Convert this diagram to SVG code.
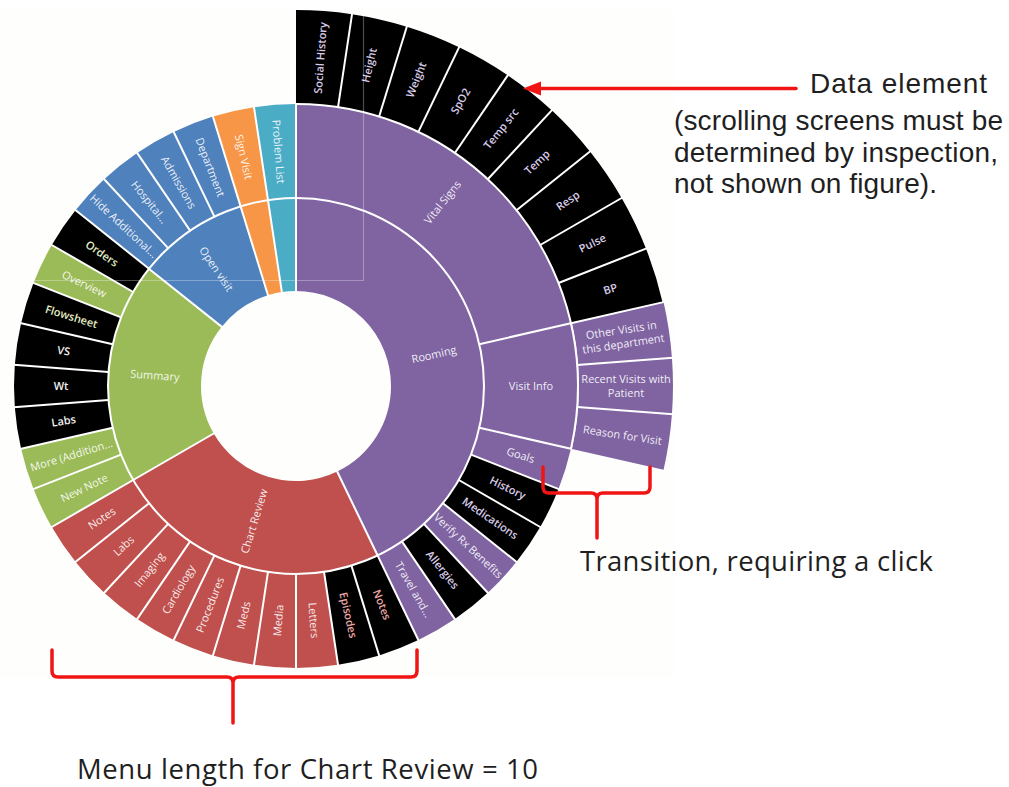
<svg xmlns="http://www.w3.org/2000/svg" xmlns:xlink="http://www.w3.org/1999/xlink" width="1009" height="787" viewBox="0 0 1009 787">
  <style>
    .arc{fill:none}
    .r1{stroke-width:93}
    .r2{stroke-width:94}
    .r3{stroke-width:94}
    .pu{stroke:#8064A2}
    .rd{stroke:#C0504D}
    .gr{stroke:#9BBB59}
    .bl{stroke:#4F81BD}
    .or{stroke:#F79646}
    .tl{stroke:#4BACC6}
    .bk{stroke:#000000}
    .lb{font-family:"Open Sans","DejaVu Sans",sans-serif;font-size:11px;text-anchor:middle;fill:#ffffff;fill-opacity:.9}
    .lk{font-weight:600;fill-opacity:1}
    .tv{fill:#d8cce9}
    .tr{fill:#eaa6a4}
    .tg{fill:#e2ecc0}
    .tw{fill:#f2f2f2}
    .sep{stroke:#ffffff;stroke-width:2;fill:none}
    .note{font-family:"Liberation Sans",Arial,sans-serif;font-size:28px;fill:#1f1f1f}
    .cap{font-family:"Open Sans","DejaVu Sans",sans-serif;font-size:27.5px;fill:#1f1f1f}
  </style>
  <defs>
    <line id="s1" x1="0" y1="-94" x2="0" y2="-189"/>
    <line id="s2" x1="0" y1="-188" x2="0" y2="-283"/>
    <line id="s3" x1="0" y1="-282" x2="0" y2="-378"/>
  </defs>

  <rect width="1009" height="787" fill="#ffffff"/>
  <rect x="0" y="10" width="675" height="667" fill="#fefffc"/>

  <g id="sunburst" transform="translate(296,386)">
    <!-- inner ring -->
    <g id="rooming">
      <circle class="arc r1 pu" r="141.5" pathLength="42" stroke-dasharray="18 24" transform="rotate(-90)"/>
      <text class="lb" transform="rotate(-12.857) translate(141.5,0)" dy="0.35em">Rooming</text>
    </g>
    <g id="chart-review">
      <circle class="arc r1 rd" r="141.5" pathLength="42" stroke-dasharray="10 32" transform="rotate(64.286)"/>
      <text class="lb" transform="rotate(-72.857) translate(-141.5,0)" dy="0.35em">Chart Review</text>
    </g>
    <g id="summary">
      <circle class="arc r1 gr" r="141.5" pathLength="42" stroke-dasharray="8 34" transform="rotate(150)"/>
      <text class="lb" transform="rotate(4.286) translate(-141.5,0)" dy="0.35em">Summary</text>
    </g>
    <g id="open-visit">
      <circle class="arc r1 bl" r="141.5" pathLength="42" stroke-dasharray="4 38" transform="rotate(218.571)"/>
      <text class="lb" transform="rotate(55.714) translate(-141.5,0)" dy="0.35em">Open visit</text>
    </g>
    <g id="sign-visit-inner">
      <circle class="arc r1 or" r="141.5" pathLength="42" stroke-dasharray="1 41" transform="rotate(252.857)"/>
    </g>
    <g id="problem-list-inner">
      <circle class="arc r1 tl" r="141.5" pathLength="42" stroke-dasharray="1 41" transform="rotate(261.429)"/>
    </g>

    <!-- middle ring: Rooming -->
    <g id="vital-signs">
      <circle class="arc r2 pu" r="235" pathLength="42" stroke-dasharray="9 33" transform="rotate(-90)"/>
      <text class="lb" transform="rotate(-51.429) translate(235,0)" dy="0.35em">Vital Signs</text>
    </g>
    <g id="visit-info">
      <circle class="arc r2 pu" r="235" pathLength="42" stroke-dasharray="3 39" transform="rotate(-12.857)"/>
      <text class="lb" transform="translate(235,0)" dy="0.35em">Visit Info</text>
    </g>
    <g id="goals">
      <circle class="arc r2 pu" r="235" pathLength="42" stroke-dasharray="1 41" transform="rotate(12.857)"/>
      <text class="lb" transform="rotate(17.143) translate(235,0)" dy="0.35em">Goals</text>
    </g>
    <g id="history">
      <circle class="arc r2 bk" r="235" pathLength="42" stroke-dasharray="1 41" transform="rotate(21.429)"/>
      <text class="lb lk tv" transform="rotate(25.714) translate(235,0)" dy="0.35em">History</text>
    </g>
    <g id="medications">
      <circle class="arc r2 bk" r="235" pathLength="42" stroke-dasharray="1 41" transform="rotate(30)"/>
      <text class="lb lk tv" transform="rotate(34.286) translate(235,0)" dy="0.35em">Medications</text>
    </g>
    <g id="verify-rx">
      <circle class="arc r2 pu" r="235" pathLength="42" stroke-dasharray="1 41" transform="rotate(38.571)"/>
      <text class="lb" transform="rotate(42.857) translate(235,0)" dy="0.35em">Verify Rx Benefits</text>
    </g>
    <g id="allergies">
      <circle class="arc r2 bk" r="235" pathLength="42" stroke-dasharray="1 41" transform="rotate(47.143)"/>
      <text class="lb lk tv" transform="rotate(51.429) translate(235,0)" dy="0.35em">Allergies</text>
    </g>
    <g id="travel">
      <circle class="arc r2 pu" r="235" pathLength="42" stroke-dasharray="1 41" transform="rotate(55.714)"/>
      <text class="lb" transform="rotate(60) translate(235,0)" dy="0.35em">Travel and...</text>
    </g>

    <!-- middle ring: Chart Review -->
    <g id="cr-notes-data">
      <circle class="arc r2 bk" r="235" pathLength="42" stroke-dasharray="1 41" transform="rotate(64.286)"/>
      <text class="lb lk tr" transform="rotate(68.571) translate(235,0)" dy="0.35em">Notes</text>
    </g>
    <g id="cr-episodes">
      <circle class="arc r2 bk" r="235" pathLength="42" stroke-dasharray="1 41" transform="rotate(72.857)"/>
      <text class="lb lk tr" transform="rotate(77.143) translate(235,0)" dy="0.35em">Episodes</text>
    </g>
    <g id="cr-letters">
      <circle class="arc r2 rd" r="235" pathLength="42" stroke-dasharray="1 41" transform="rotate(81.429)"/>
      <text class="lb" transform="rotate(85.714) translate(235,0)" dy="0.35em">Letters</text>
    </g>
    <g id="cr-media">
      <circle class="arc r2 rd" r="235" pathLength="42" stroke-dasharray="1 41" transform="rotate(90)"/>
      <text class="lb" transform="rotate(-85.714) translate(-235,0)" dy="0.35em">Media</text>
    </g>
    <g id="cr-meds">
      <circle class="arc r2 rd" r="235" pathLength="42" stroke-dasharray="1 41" transform="rotate(98.571)"/>
      <text class="lb" transform="rotate(-77.143) translate(-235,0)" dy="0.35em">Meds</text>
    </g>
    <g id="cr-procedures">
      <circle class="arc r2 rd" r="235" pathLength="42" stroke-dasharray="1 41" transform="rotate(107.143)"/>
      <text class="lb" transform="rotate(-68.571) translate(-235,0)" dy="0.35em">Procedures</text>
    </g>
    <g id="cr-cardiology">
      <circle class="arc r2 rd" r="235" pathLength="42" stroke-dasharray="1 41" transform="rotate(115.714)"/>
      <text class="lb" transform="rotate(-60) translate(-235,0)" dy="0.35em">Cardiology</text>
    </g>
    <g id="cr-imaging">
      <circle class="arc r2 rd" r="235" pathLength="42" stroke-dasharray="1 41" transform="rotate(124.286)"/>
      <text class="lb" transform="rotate(-51.429) translate(-235,0)" dy="0.35em">Imaging</text>
    </g>
    <g id="cr-labs">
      <circle class="arc r2 rd" r="235" pathLength="42" stroke-dasharray="1 41" transform="rotate(132.857)"/>
      <text class="lb" transform="rotate(-42.857) translate(-235,0)" dy="0.35em">Labs</text>
    </g>
    <g id="cr-notes">
      <circle class="arc r2 rd" r="235" pathLength="42" stroke-dasharray="1 41" transform="rotate(141.429)"/>
      <text class="lb" transform="rotate(-34.286) translate(-235,0)" dy="0.35em">Notes</text>
    </g>

    <!-- middle ring: Summary -->
    <g id="sm-new-note">
      <circle class="arc r2 gr" r="235" pathLength="42" stroke-dasharray="1 41" transform="rotate(150)"/>
      <text class="lb" transform="rotate(-25.714) translate(-235,0)" dy="0.35em">New Note</text>
    </g>
    <g id="sm-more">
      <circle class="arc r2 gr" r="235" pathLength="42" stroke-dasharray="1 41" transform="rotate(158.571)"/>
      <text class="lb" transform="rotate(-17.143) translate(-235,0)" dy="0.35em">More (Addition...</text>
    </g>
    <g id="sm-labs">
      <circle class="arc r2 bk" r="235" pathLength="42" stroke-dasharray="1 41" transform="rotate(167.143)"/>
      <text class="lb lk tw" transform="rotate(-8.571) translate(-235,0)" dy="0.35em">Labs</text>
    </g>
    <g id="sm-wt">
      <circle class="arc r2 bk" r="235" pathLength="42" stroke-dasharray="1 41" transform="rotate(175.714)"/>
      <text class="lb lk tw" transform="translate(-235,0)" dy="0.35em">Wt</text>
    </g>
    <g id="sm-vs">
      <circle class="arc r2 bk" r="235" pathLength="42" stroke-dasharray="1 41" transform="rotate(184.286)"/>
      <text class="lb lk tw" transform="rotate(8.571) translate(-235,0)" dy="0.35em">VS</text>
    </g>
    <g id="sm-flowsheet">
      <circle class="arc r2 bk" r="235" pathLength="42" stroke-dasharray="1 41" transform="rotate(192.857)"/>
      <text class="lb lk tg" transform="rotate(17.143) translate(-235,0)" dy="0.35em">Flowsheet</text>
    </g>
    <g id="sm-overview">
      <circle class="arc r2 gr" r="235" pathLength="42" stroke-dasharray="1 41" transform="rotate(201.429)"/>
      <text class="lb" transform="rotate(25.714) translate(-235,0)" dy="0.35em">Overview</text>
    </g>
    <g id="sm-orders">
      <circle class="arc r2 bk" r="235" pathLength="42" stroke-dasharray="1 41" transform="rotate(210)"/>
      <text class="lb lk tg" transform="rotate(34.286) translate(-235,0)" dy="0.35em">Orders</text>
    </g>

    <!-- middle ring: Open visit, Sign Visit, Problem List -->
    <g id="ov-hide">
      <circle class="arc r2 bl" r="235" pathLength="42" stroke-dasharray="1 41" transform="rotate(218.571)"/>
      <text class="lb" transform="rotate(42.857) translate(-235,0)" dy="0.35em">Hide Additional...</text>
    </g>
    <g id="ov-hospital">
      <circle class="arc r2 bl" r="235" pathLength="42" stroke-dasharray="1 41" transform="rotate(227.143)"/>
      <text class="lb" transform="rotate(51.429) translate(-235,0)" dy="0.35em">Hospital...</text>
    </g>
    <g id="ov-admissions">
      <circle class="arc r2 bl" r="235" pathLength="42" stroke-dasharray="1 41" transform="rotate(235.714)"/>
      <text class="lb" transform="rotate(60) translate(-235,0)" dy="0.35em">Admissions</text>
    </g>
    <g id="ov-department">
      <circle class="arc r2 bl" r="235" pathLength="42" stroke-dasharray="1 41" transform="rotate(244.286)"/>
      <text class="lb" transform="rotate(68.571) translate(-235,0)" dy="0.35em">Department</text>
    </g>
    <g id="sign-visit">
      <circle class="arc r2 or" r="235" pathLength="42" stroke-dasharray="1 41" transform="rotate(252.857)"/>
      <text class="lb" transform="rotate(77.143) translate(-235,0)" dy="0.35em">Sign Visit</text>
    </g>
    <g id="problem-list">
      <circle class="arc r2 tl" r="235" pathLength="42" stroke-dasharray="1 41" transform="rotate(261.429)"/>
      <text class="lb" transform="rotate(85.714) translate(-235,0)" dy="0.35em">Problem List</text>
    </g>

    <!-- outer ring: Vital Signs data elements -->
    <g id="vs-social-history">
      <circle class="arc r3 bk" r="329" pathLength="42" stroke-dasharray="1 41" transform="rotate(-90)"/>
      <text class="lb lk tv" transform="rotate(-85.714) translate(329,0)" dy="0.35em">Social History</text>
    </g>
    <g id="vs-height">
      <circle class="arc r3 bk" r="329" pathLength="42" stroke-dasharray="1 41" transform="rotate(-81.429)"/>
      <text class="lb lk tv" transform="rotate(-77.143) translate(329,0)" dy="0.35em">Height</text>
    </g>
    <g id="vs-weight">
      <circle class="arc r3 bk" r="329" pathLength="42" stroke-dasharray="1 41" transform="rotate(-72.857)"/>
      <text class="lb lk tv" transform="rotate(-68.571) translate(329,0)" dy="0.35em">Weight</text>
    </g>
    <g id="vs-spo2">
      <circle class="arc r3 bk" r="329" pathLength="42" stroke-dasharray="1 41" transform="rotate(-64.286)"/>
      <text class="lb lk tv" transform="rotate(-60) translate(329,0)" dy="0.35em">SpO2</text>
    </g>
    <g id="vs-temp-src">
      <circle class="arc r3 bk" r="329" pathLength="42" stroke-dasharray="1 41" transform="rotate(-55.714)"/>
      <text class="lb lk tv" transform="rotate(-51.429) translate(329,0)" dy="0.35em">Temp src</text>
    </g>
    <g id="vs-temp">
      <circle class="arc r3 bk" r="329" pathLength="42" stroke-dasharray="1 41" transform="rotate(-47.143)"/>
      <text class="lb lk tv" transform="rotate(-42.857) translate(329,0)" dy="0.35em">Temp</text>
    </g>
    <g id="vs-resp">
      <circle class="arc r3 bk" r="329" pathLength="42" stroke-dasharray="1 41" transform="rotate(-38.571)"/>
      <text class="lb lk tv" transform="rotate(-34.286) translate(329,0)" dy="0.35em">Resp</text>
    </g>
    <g id="vs-pulse">
      <circle class="arc r3 bk" r="329" pathLength="42" stroke-dasharray="1 41" transform="rotate(-30)"/>
      <text class="lb lk tv" transform="rotate(-25.714) translate(329,0)" dy="0.35em">Pulse</text>
    </g>
    <g id="vs-bp">
      <circle class="arc r3 bk" r="329" pathLength="42" stroke-dasharray="1 41" transform="rotate(-21.429)"/>
      <text class="lb lk tv" transform="rotate(-17.143) translate(329,0)" dy="0.35em">BP</text>
    </g>

    <!-- outer ring: Visit Info screens -->
    <g id="vi-other-visits">
      <circle class="arc r3 pu" r="330" pathLength="42" stroke-dasharray="1 41" transform="rotate(-12.857)"/>
      <text class="lb" transform="rotate(-8.571) translate(330,0)"><tspan x="0" y="-3">Other Visits in</tspan><tspan x="0" y="11">this department</tspan></text>
    </g>
    <g id="vi-recent-visits">
      <circle class="arc r3 pu" r="330" pathLength="42" stroke-dasharray="1 41" transform="rotate(-4.286)"/>
      <text class="lb" transform="translate(330,0)"><tspan x="0" y="-3">Recent Visits with</tspan><tspan x="0" y="11">Patient</tspan></text>
    </g>
    <g id="vi-reason">
      <circle class="arc r3 pu" r="330" pathLength="42" stroke-dasharray="1 41" transform="rotate(4.286)"/>
      <text class="lb" transform="rotate(8.571) translate(330,0)" dy="0.35em">Reason for Visit</text>
    </g>
  </g>

  <!-- white separators between segments -->
  <g id="separators" class="sep" transform="translate(296,386)">
    <circle r="188"/>
    <circle r="282" pathLength="42" stroke-dasharray="12 30" transform="rotate(-90)"/>
    <use href="#s1"/>
    <use href="#s1" transform="rotate(154.286)"/>
    <use href="#s1" transform="rotate(240)"/>
    <use href="#s1" transform="rotate(308.571)"/>
    <use href="#s1" transform="rotate(342.857)"/>
    <use href="#s1" transform="rotate(351.429)"/>

    <use href="#s2"/>
    <use href="#s2" transform="rotate(77.143)"/>
    <use href="#s2" transform="rotate(102.857)"/>
    <use href="#s2" transform="rotate(111.429)"/>
    <use href="#s2" transform="rotate(120)"/>
    <use href="#s2" transform="rotate(128.571)"/>
    <use href="#s2" transform="rotate(137.143)"/>
    <use href="#s2" transform="rotate(145.714)"/>
    <use href="#s2" transform="rotate(154.286)"/>
    <use href="#s2" transform="rotate(162.857)"/>
    <use href="#s2" transform="rotate(171.429)"/>
    <use href="#s2" transform="rotate(180)"/>
    <use href="#s2" transform="rotate(188.571)"/>
    <use href="#s2" transform="rotate(197.143)"/>
    <use href="#s2" transform="rotate(205.714)"/>
    <use href="#s2" transform="rotate(214.286)"/>
    <use href="#s2" transform="rotate(222.857)"/>
    <use href="#s2" transform="rotate(231.429)"/>
    <use href="#s2" transform="rotate(240)"/>
    <use href="#s2" transform="rotate(248.571)"/>
    <use href="#s2" transform="rotate(257.143)"/>
    <use href="#s2" transform="rotate(265.714)"/>
    <use href="#s2" transform="rotate(274.286)"/>
    <use href="#s2" transform="rotate(282.857)"/>
    <use href="#s2" transform="rotate(291.429)"/>
    <use href="#s2" transform="rotate(300)"/>
    <use href="#s2" transform="rotate(308.571)"/>
    <use href="#s2" transform="rotate(317.143)"/>
    <use href="#s2" transform="rotate(325.714)"/>
    <use href="#s2" transform="rotate(334.286)"/>
    <use href="#s2" transform="rotate(342.857)"/>
    <use href="#s2" transform="rotate(351.429)"/>

    <use href="#s3" transform="rotate(8.571)"/>
    <use href="#s3" transform="rotate(17.143)"/>
    <use href="#s3" transform="rotate(25.714)"/>
    <use href="#s3" transform="rotate(34.286)"/>
    <use href="#s3" transform="rotate(42.857)"/>
    <use href="#s3" transform="rotate(51.429)"/>
    <use href="#s3" transform="rotate(60)"/>
    <use href="#s3" transform="rotate(68.571)"/>
    <use href="#s3" transform="rotate(77.143)"/>
    <use href="#s3" transform="rotate(85.714)"/>
    <use href="#s3" transform="rotate(94.286)"/>
  </g>

  <!-- faint selection frame over the chart -->
  <path d="M0 280.5H363.5V10" fill="none" stroke="#ffffff" stroke-opacity="0.3" stroke-width="1.2"/>

  <!-- annotations: arrow and braces -->
  <g id="connectors" fill="none" stroke="#f01414" stroke-width="3.5" stroke-linecap="round" stroke-linejoin="round">
    <path id="data-arrow" d="M796 88.5H538"/>
    <path id="transition-brace" d="M543 467V487Q543 493 549 493H591Q597 493 597 499V538M597 499Q597 493 603 493H644Q650 493 650 487V467"/>
    <path id="menu-brace" d="M52 650V671Q52 677 58 677H227Q233 677 233 683V723M233 683Q233 677 239 677H411Q417 677 417 671V650"/>
  </g>
  <polygon points="523,88.5 541,81.5 541,95.5" fill="#f01414"/>

  <g id="label-data-element">
    <text class="note" x="810" y="93" textLength="177">Data element</text>
    <text class="note" x="674" y="130" textLength="329">(scrolling screens must be</text>
    <text class="note" x="674" y="162" textLength="324">determined by inspection,</text>
    <text class="note" x="674" y="193" textLength="263">not shown on figure).</text>
  </g>
  <g id="label-transition">
    <text class="cap" x="580" y="571" textLength="353">Transition, requiring a click</text>
  </g>
  <g id="label-menu-length">
    <text class="cap" x="77" y="779" textLength="461">Menu length for Chart Review = 10</text>
  </g>
</svg>
